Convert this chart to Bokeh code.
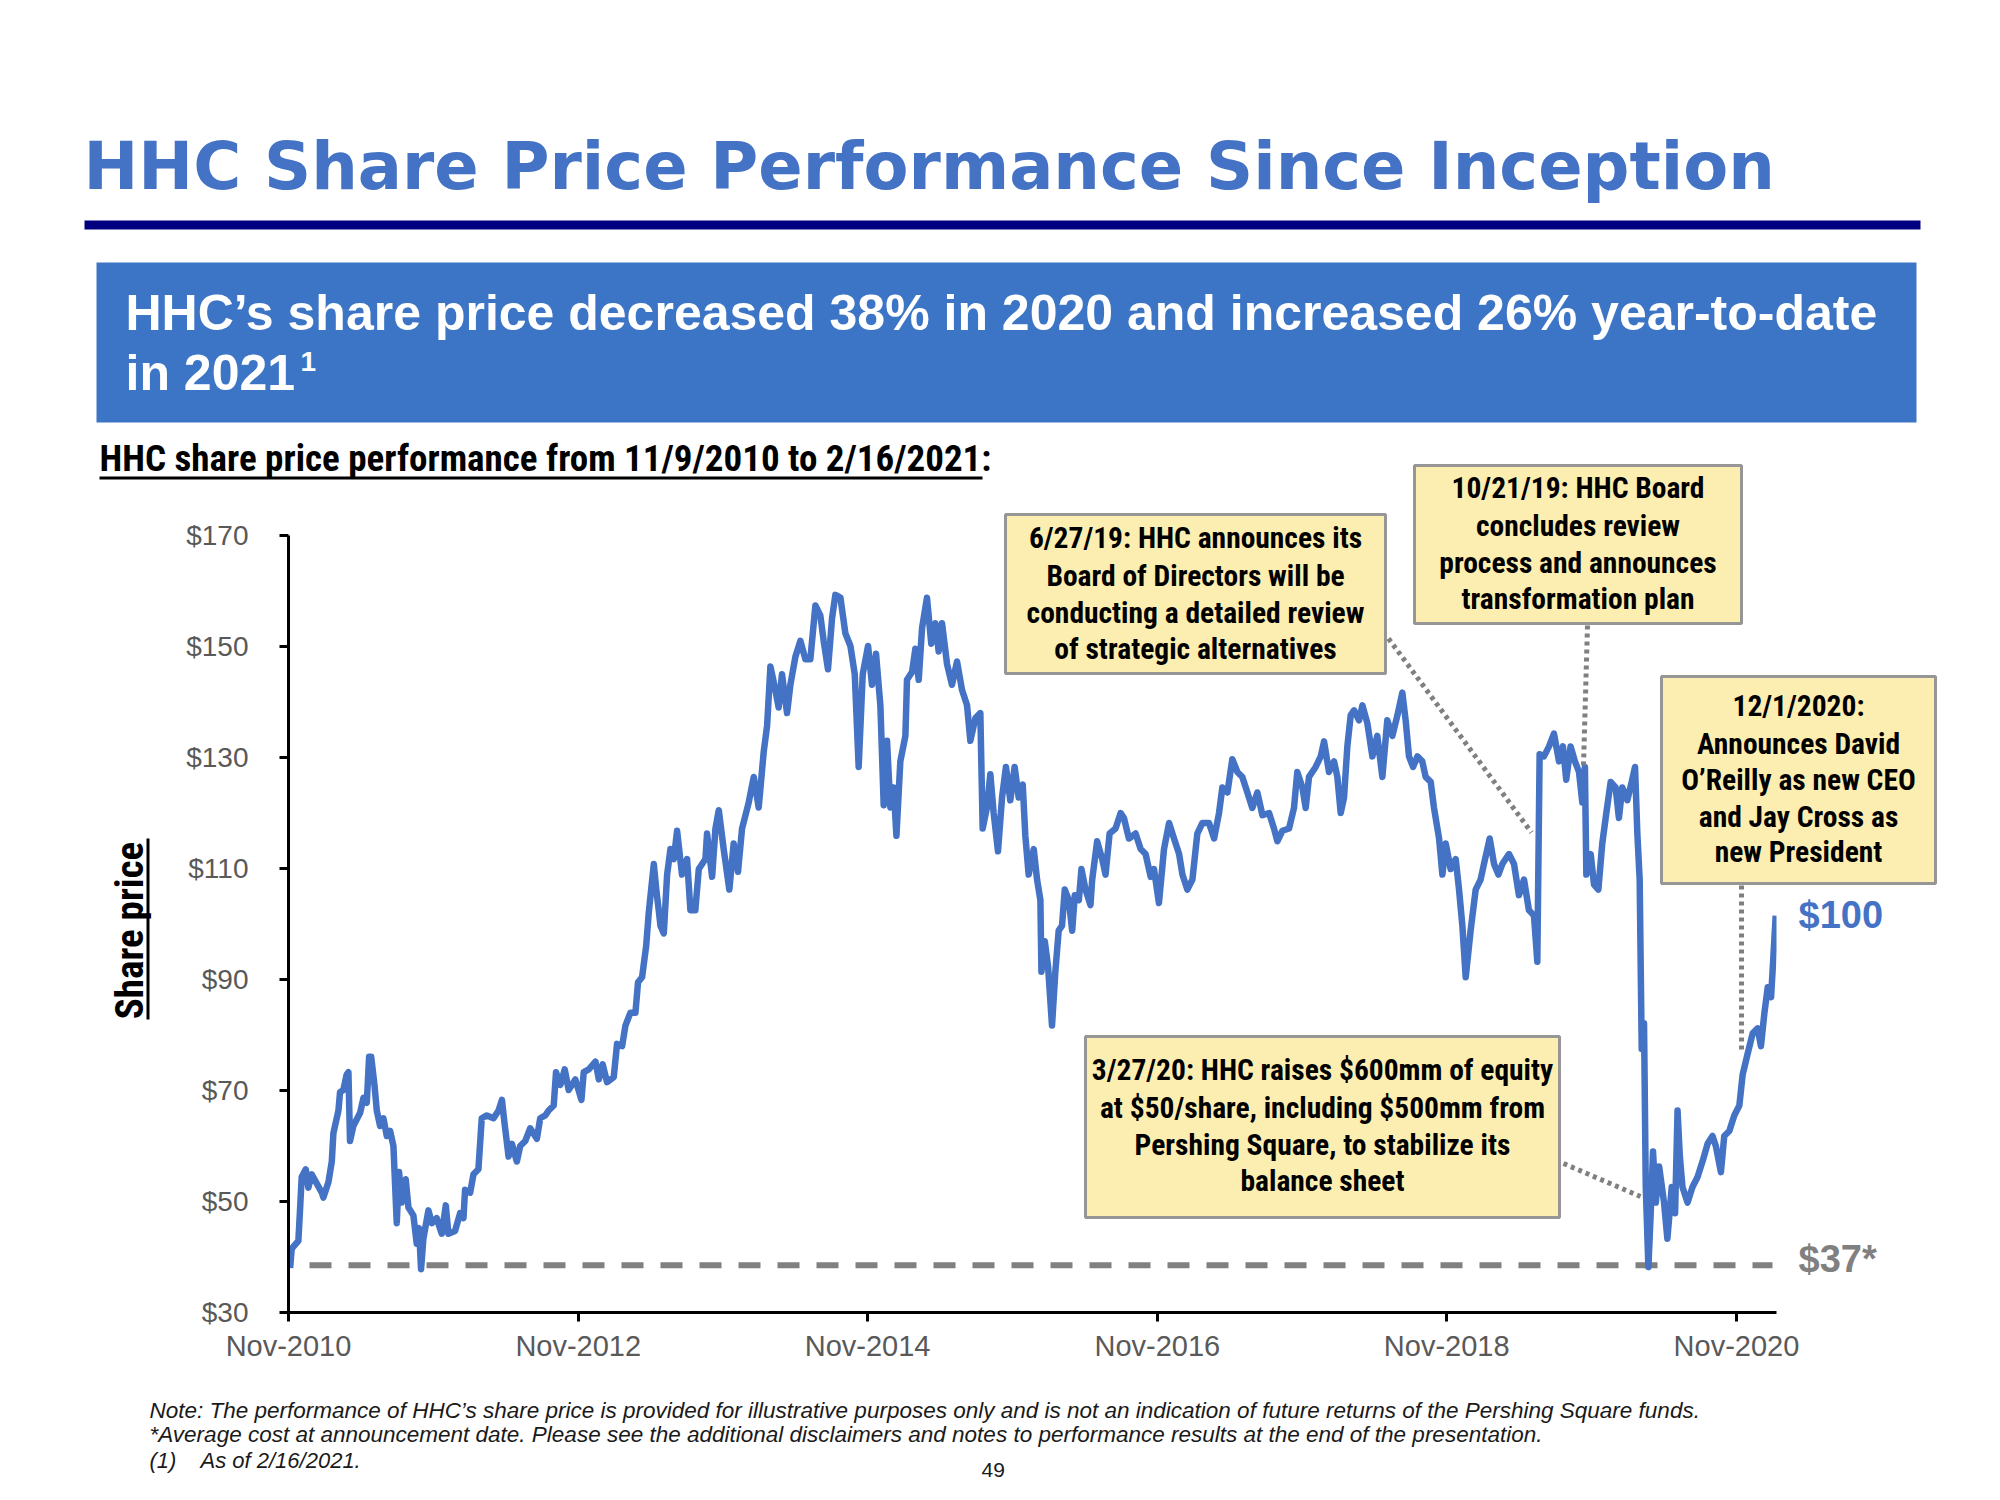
import numpy as np
import pandas as pd
from bokeh.plotting import figure
from bokeh.models import (Range1d, FixedTicker, DatetimeTickFormatter,
                          NumeralTickFormatter, GridBox)
from bokeh.core.properties import value
from bokeh.embed import file_html
from bokeh.resources import INLINE

# ---------------- data ----------------
years_2010_2013 = [
    2010.866, 2010.877, 2010.923, 2010.935, 2010.946, 2010.974, 2010.992, 2011.015, 2011.085, 2011.096,
    2011.131, 2011.154, 2011.165, 2011.200, 2011.211, 2011.234, 2011.257, 2011.269, 2011.280, 2011.303,
    2011.350, 2011.373, 2011.396, 2011.412, 2011.426, 2011.449, 2011.465, 2011.488, 2011.511, 2011.534,
    2011.557, 2011.580, 2011.603, 2011.619, 2011.637, 2011.665, 2011.684, 2011.718, 2011.741, 2011.757,
    2011.771, 2011.787, 2011.822, 2011.845, 2011.879, 2011.914, 2011.942, 2011.960, 2012.006, 2012.041,
    2012.064, 2012.075, 2012.110, 2012.133, 2012.167, 2012.190, 2012.225, 2012.271, 2012.306, 2012.329,
    2012.347, 2012.375, 2012.398, 2012.432, 2012.455, 2012.490, 2012.524, 2012.570, 2012.593, 2012.628,
    2012.651, 2012.686, 2012.702, 2012.732, 2012.762, 2012.789, 2012.835, 2012.877, 2012.893, 2012.928,
    2012.974, 2012.997, 2013.024, 2013.054, 2013.100, 2013.123, 2013.158, 2013.181, 2013.215, 2013.250,
    2013.268, 2013.296, 2013.324, 2013.342, 2013.377, 2013.395, 2013.411, 2013.423, 2013.446]
prices_2010_2013 = [
    38.0, 41.5, 42.9, 48.8, 54.4, 55.8, 52.5, 54.9, 51.6, 50.7,
    53.5, 57.2, 62.3, 66.4, 69.7, 70.1, 72.9, 73.3, 60.9, 63.6,
    66.0, 68.7, 67.8, 76.1, 76.1, 71.0, 66.4, 63.6, 65.0, 61.8,
    62.7, 60.0, 46.1, 55.3, 49.8, 54.0, 48.9, 47.5, 42.4, 45.2,
    37.8, 43.3, 48.4, 46.1, 47.0, 44.2, 49.3, 44.2, 44.7, 47.9,
    47.0, 52.1, 51.6, 54.9, 55.8, 65.0, 65.5, 65.0, 66.4, 68.3,
    64.1, 58.1, 60.4, 57.2, 60.0, 60.9, 63.2, 61.3, 65.0, 65.5,
    66.4, 67.3, 73.3, 71.0, 73.8, 70.1, 72.0, 68.3, 73.3, 73.8,
    75.2, 72.0, 74.7, 71.5, 72.4, 78.4, 78.0, 81.7, 84.0, 84.0,
    89.5, 90.4, 96.0, 102.0, 110.8, 106.0, 102.5, 99.7, 98.3]

years_2013_2015 = [
    2013.469, 2013.492, 2013.515, 2013.538, 2013.572, 2013.607, 2013.630, 2013.664, 2013.688, 2013.734,
    2013.745, 2013.780, 2013.803, 2013.826, 2013.860, 2013.899, 2013.929, 2013.959, 2013.987, 2014.033,
    2014.068, 2014.102, 2014.137, 2014.160, 2014.183, 2014.217, 2014.240, 2014.263, 2014.298, 2014.321,
    2014.356, 2014.390, 2014.425, 2014.459, 2014.494, 2014.528, 2014.551, 2014.581, 2014.609, 2014.632,
    2014.667, 2014.701, 2014.736, 2014.766, 2014.793, 2014.821, 2014.858, 2014.885, 2014.913, 2014.943,
    2014.966, 2014.989, 2015.012, 2015.035, 2015.054, 2015.081, 2015.116, 2015.127, 2015.162, 2015.185,
    2015.208, 2015.231, 2015.265, 2015.295, 2015.323, 2015.346, 2015.369, 2015.404, 2015.438, 2015.473,
    2015.507, 2015.542, 2015.565, 2015.600, 2015.634, 2015.650, 2015.680, 2015.703, 2015.726, 2015.756,
    2015.784, 2015.811, 2015.841, 2015.871, 2015.899, 2015.927, 2015.945, 2015.968]
prices_2013_2015 = [
    108.9, 113.5, 111.7, 116.8, 108.9, 111.7, 102.5, 102.5, 109.9, 111.7,
    116.3, 108.5, 117.2, 120.5, 113.5, 106.2, 114.5, 109.4, 117.2, 121.9,
    126.5, 121.0, 131.1, 135.7, 146.4, 142.2, 139.0, 145.0, 138.0, 143.1,
    148.2, 151.0, 147.7, 147.7, 157.4, 155.6, 151.0, 145.9, 155.1, 159.3,
    158.8, 152.4, 150.1, 145.0, 128.3, 145.0, 150.1, 143.1, 148.7, 139.4,
    121.4, 133.0, 121.0, 124.6, 115.9, 129.3, 133.9, 144.0, 145.4, 149.6,
    144.0, 153.3, 158.8, 150.5, 154.2, 149.1, 154.2, 146.8, 143.1, 147.3,
    142.2, 139.4, 133.0, 137.1, 138.0, 117.2, 121.0, 127.0, 120.0, 113.1,
    122.8, 128.3, 122.3, 128.3, 122.8, 125.1, 115.9, 108.9]

years_2016_2018 = [
    2016.003, 2016.026, 2016.049, 2016.056, 2016.079, 2016.102, 2016.129, 2016.152, 2016.175, 2016.198,
    2016.217, 2016.245, 2016.268, 2016.286, 2016.314, 2016.332, 2016.360, 2016.394, 2016.406, 2016.440,
    2016.475, 2016.498, 2016.526, 2016.567, 2016.602, 2016.625, 2016.659, 2016.705, 2016.740, 2016.774,
    2016.809, 2016.832, 2016.866, 2016.901, 2016.936, 2016.970, 2017.005, 2017.028, 2017.062, 2017.097,
    2017.131, 2017.166, 2017.212, 2017.247, 2017.281, 2017.304, 2017.339, 2017.373, 2017.408, 2017.442,
    2017.477, 2017.511, 2017.546, 2017.581, 2017.627, 2017.661, 2017.684, 2017.719, 2017.765, 2017.799,
    2017.822, 2017.857, 2017.880, 2017.903, 2017.949, 2017.984, 2018.007, 2018.041, 2018.076, 2018.099,
    2018.122, 2018.145, 2018.168, 2018.191, 2018.214, 2018.249, 2018.272, 2018.306, 2018.341, 2018.375,
    2018.410, 2018.444, 2018.479]
prices_2016_2018 = [
    113.5, 108.0, 104.3, 91.4, 96.9, 92.3, 81.7, 91.4, 98.8, 99.7,
    106.2, 104.3, 98.8, 105.2, 104.3, 109.9, 106.2, 103.4, 108.0, 114.9,
    111.7, 108.9, 116.3, 117.2, 120.0, 119.1, 115.4, 116.3, 113.5, 112.6,
    108.5, 109.9, 103.8, 113.5, 118.2, 115.4, 112.6, 108.9, 106.2, 108.0,
    116.3, 118.2, 118.2, 115.4, 120.0, 124.6, 123.7, 129.7, 127.4, 126.5,
    123.7, 120.9, 123.7, 119.6, 120.0, 117.2, 114.9, 116.8, 117.2, 120.9,
    127.4, 124.6, 120.9, 126.5, 128.3, 130.2, 132.9, 127.4, 129.3, 126.5,
    120.0, 122.8, 132.0, 137.6, 138.5, 136.7, 139.4, 136.2, 130.2, 133.9,
    126.5, 136.7, 133.9]

years_2018_2021 = [
    2018.514, 2018.548, 2018.571, 2018.594, 2018.622, 2018.652, 2018.686, 2018.709, 2018.744, 2018.767,
    2018.802, 2018.825, 2018.848, 2018.882, 2018.917, 2018.940, 2018.963, 2018.986, 2019.020, 2019.055,
    2019.089, 2019.112, 2019.152, 2019.182, 2019.212, 2019.239, 2019.285, 2019.320, 2019.354, 2019.389,
    2019.423, 2019.458, 2019.481, 2019.497, 2019.527, 2019.562, 2019.596, 2019.631, 2019.658, 2019.681,
    2019.711, 2019.741, 2019.769, 2019.792, 2019.810, 2019.820, 2019.850, 2019.873, 2019.903, 2019.930,
    2019.958, 2019.988, 2020.022, 2020.045, 2020.068, 2020.103, 2020.133, 2020.156, 2020.172, 2020.188,
    2020.202, 2020.218, 2020.230, 2020.248, 2020.264, 2020.280, 2020.299, 2020.322, 2020.356, 2020.379,
    2020.409, 2020.432, 2020.449, 2020.465, 2020.483, 2020.518, 2020.552, 2020.587, 2020.621, 2020.656,
    2020.690, 2020.713, 2020.748, 2020.771, 2020.806, 2020.840, 2020.875, 2020.898, 2020.932, 2020.967,
    2021.001, 2021.024, 2021.048, 2021.071, 2021.094, 2021.110, 2021.126]
prices_2018_2021 = [
    137.6, 141.7, 136.7, 130.2, 128.3, 130.2, 129.3, 126.5, 125.6, 120.9,
    115.4, 108.9, 114.5, 109.9, 111.7, 106.2, 99.7, 90.4, 98.8, 106.2,
    108.0, 110.8, 115.4, 110.8, 108.9, 110.8, 112.6, 110.8, 105.2, 108.0,
    102.5, 101.5, 93.2, 130.6, 130.2, 132.0, 134.3, 129.3, 132.0, 126.0,
    132.0, 129.3, 127.4, 121.9, 128.3, 108.9, 112.6, 107.1, 106.2, 114.5,
    120.0, 125.6, 124.6, 119.1, 124.6, 122.3, 125.6, 128.3, 116.3, 108.0,
    77.5, 82.1, 52.6, 38.2, 47.9, 59.0, 49.8, 56.3, 49.8, 43.3,
    52.6, 47.9, 66.4, 58.1, 52.6, 49.8, 52.6, 54.4, 57.2, 60.4,
    61.8, 60.0, 55.3, 61.8, 62.7, 65.5, 67.3, 72.9, 76.6, 80.3,
    81.2, 78.0, 84.0, 88.6, 86.8, 94.1, 101.5]

x_tick_dates = ["2010-11-09", "2012-11-09", "2014-11-09", "2016-11-09", "2018-11-09", "2020-11-09"]
y_tick_values = [30, 50, 70, 90, 110, 130, 150, 170]
avg_cost_level = 38.5
last_price_text = "$100"
avg_cost_text = "$37*"

# ---------------- assemble ----------------
years = years_2010_2013 + years_2013_2015 + years_2016_2018 + years_2018_2021
prices = prices_2010_2013 + prices_2013_2015 + prices_2016_2018 + prices_2018_2021
assert len(years) == len(prices)


def year_to_ts(y):
    yi = int(np.floor(y))
    a = pd.Timestamp(year=yi, month=1, day=1)
    b = pd.Timestamp(year=yi + 1, month=1, day=1)
    return a + (b - a) * (y - yi)


dates = [year_to_ts(y) for y in years]

W, H = 1984, 1484
FL, FR, FT, FB = 288, 1776, 535, 1312   # plot frame in page pixels
x_start = pd.Timestamp("2010-11-09")
x_end = pd.Timestamp("2021-02-18")
y_lo, y_hi = 30, 170
xs_ms = x_start.value / 1e6
xe_ms = x_end.value / 1e6


def X(px):
    return xs_ms + (px - FL) * (xe_ms - xs_ms) / (FR - FL)


BLUE = "#4472C4"
GRAY = "#808080"

# ---------------- main chart (axes + data) ----------------
p = figure(width=W, height=H, x_axis_type="datetime",
           x_range=Range1d(x_start, x_end), y_range=Range1d(y_lo, y_hi),
           output_backend="svg", toolbar_location=None,
           min_border_left=FL, min_border_right=W - FR,
           min_border_top=FT, min_border_bottom=H - FB)
p.frame_align = False
p.outline_line_color = None
p.xgrid.visible = False
p.ygrid.visible = False
p.background_fill_color = "white"
p.border_fill_color = "white"

p.xaxis.ticker = FixedTicker(ticks=[pd.Timestamp(d).value / 1e6 for d in x_tick_dates])
p.xaxis.formatter = DatetimeTickFormatter(years="%b-%Y", months="%b-%Y", days="%b-%Y",
                                          hours="%b-%Y", hourmin="%b-%Y")
p.yaxis.ticker = FixedTicker(ticks=y_tick_values)
p.yaxis.formatter = NumeralTickFormatter(format="$0")
for ax in (p.xaxis[0], p.yaxis[0]):
    ax.axis_line_width = 3
    ax.axis_line_color = "black"
    ax.major_tick_line_width = 3
    ax.major_tick_line_color = "black"
    ax.major_tick_out = 9
    ax.major_tick_in = 0
    ax.minor_tick_out = 0
    ax.minor_tick_in = 0
    ax.major_label_text_font = "Liberation Sans"
    ax.major_label_text_font_size = "28px"
    ax.major_label_text_color = "#595959"
p.xaxis.major_label_text_font_size = "29px"
p.yaxis.major_label_standoff = 31
p.xaxis.major_label_standoff = 8

p.line(x=[X(309), X(1772)], y=[avg_cost_level, avg_cost_level], line_color=GRAY,
       line_width=6, line_dash="22 17")
p.line(x=dates, y=prices, line_color=BLUE, line_width=6.5, line_join="round")

# ---------------- overlay (page-pixel coordinates) ----------------
o = figure(width=W, height=H, x_range=Range1d(0, W), y_range=Range1d(H, 0),
           output_backend="svg", toolbar_location=None, x_axis_type=None, y_axis_type=None,
           min_border=0, min_border_left=0, min_border_right=0,
           min_border_top=0, min_border_bottom=0)
o.frame_align = False
o.outline_line_color = None
o.background_fill_color = None
o.border_fill_color = None
o.xgrid.visible = False
o.ygrid.visible = False

NARROW = "Roboto Condensed, DejaVu Sans Condensed, Liberation Sans Narrow, Roboto"
HEAVY = "DejaVu Sans"
SANS = "Liberation Sans"


def txt(s, px, base, size, color="black", font=SANS, style="normal",
        align="left", angle=0.0):
    # base = baseline position; the text is placed by its middle line
    if angle:
        xm, ym = px - 0.35 * size, base
    else:
        xm, ym = px, base - 0.35 * size
    o.text(x=[xm], y=[ym], text=[s], text_font=value(font), text_font_size=value(f"{size}px"),
           text_font_style=style, text_color=color, text_align=align,
           text_baseline="middle", angle=angle)


def box(l, t, r, b, fill, line=None, lw=0):
    o.quad(left=[l], right=[r], top=[t], bottom=[b], fill_color=fill, fill_alpha=1.0,
           line_color=line if line else None, line_width=lw)


def leader(x0, y0, x1, y1):
    o.segment(x0=[x0], y0=[y0], x1=[x1], y1=[y1], line_color=GRAY, line_width=5,
              line_dash="4 4")


# title, rule, banner
txt("HHC Share Price Performance Since Inception", 83, 188, 65.5, BLUE, HEAVY, "bold")
box(84, 220, 1920, 229, "#000080")
box(96, 262, 1916, 422, "#3C75C5")
txt("HHC\u2019s share price decreased 38% in 2020 and increased 26% year-to-date",
    125, 330, 50, "white", SANS, "bold")
txt("in 2021", 125, 390, 50, "white", SANS, "bold")
txt("1", 300, 371, 28, "white", SANS, "bold")

# subtitle
txt("HHC share price performance from 11/9/2010 to 2/16/2021:", 99, 471, 37, "black", NARROW, "bold")
box(99, 476, 982, 479, "black")

# y axis title
txt("Share price", 143, 930, 39, "black", NARROW, "bold", align="center", angle=np.pi / 2)
box(146, 838, 149, 1019, "black")

# end labels
txt(last_price_text, 1798, 928, 38, BLUE, SANS, "bold")
txt(avg_cost_text, 1798, 1272, 38, GRAY, SANS, "bold")

# annotation boxes with leaders
YELLOW = "#FCEEB0"
BORDER = "#969696"
leader(1388, 638, 1531, 832)
leader(1587, 625, 1583, 765)
leader(1741, 885, 1741, 1050)
leader(1563, 1163, 1640, 1196)
notes = [
    ((1005, 514, 1385, 673), [548, 586, 623, 659],
     ["6/27/19: HHC announces its", "Board of Directors will be",
      "conducting a detailed review", "of strategic alternatives"]),
    ((1414, 465, 1741, 623), [498, 536, 573, 609],
     ["10/21/19: HHC Board", "concludes review", "process and announces",
      "transformation plan"]),
    ((1661, 676, 1935, 883), [716, 754, 790, 827, 862],
     ["12/1/2020:", "Announces David", "O\u2019Reilly as new CEO",
      "and Jay Cross as", "new President"]),
    ((1085, 1036, 1559, 1217), [1080, 1118, 1155, 1191],
     ["3/27/20: HHC raises $600mm of equity", "at $50/share, including $500mm from",
      "Pershing Square, to stabilize its", "balance sheet"]),
]
for (l, t, r, b), bases, lines in notes:
    box(l, t, r, b, YELLOW, BORDER, 3)
    cx = (l + r) / 2
    for by, s in zip(bases, lines):
        txt(s, cx, by, 29.5, "black", NARROW, "bold", align="center")

# footnotes
FOOT = "#1a1a1a"
txt("Note: The performance of HHC\u2019s share price is provided for illustrative purposes only and is "
    "not an indication of future returns of the Pershing Square funds.", 149, 1418, 22.5, FOOT,
    SANS, "italic")
txt("*Average cost at announcement date. Please see the additional disclaimers and notes to "
    "performance results at the end of the presentation.", 149, 1442, 22.5, FOOT, SANS, "italic")
txt("(1)", 149, 1468, 22, FOOT, SANS, "italic")
txt("As of 2/16/2021.", 200, 1468, 22, FOOT, SANS, "italic")
txt("49", 981, 1477, 21, FOOT, SANS, "normal")

layout = GridBox(children=[(p, 0, 0), (o, 0, 0)])

with open("out.html", "w", encoding="utf-8") as f:
    f.write(file_html(layout, INLINE))
